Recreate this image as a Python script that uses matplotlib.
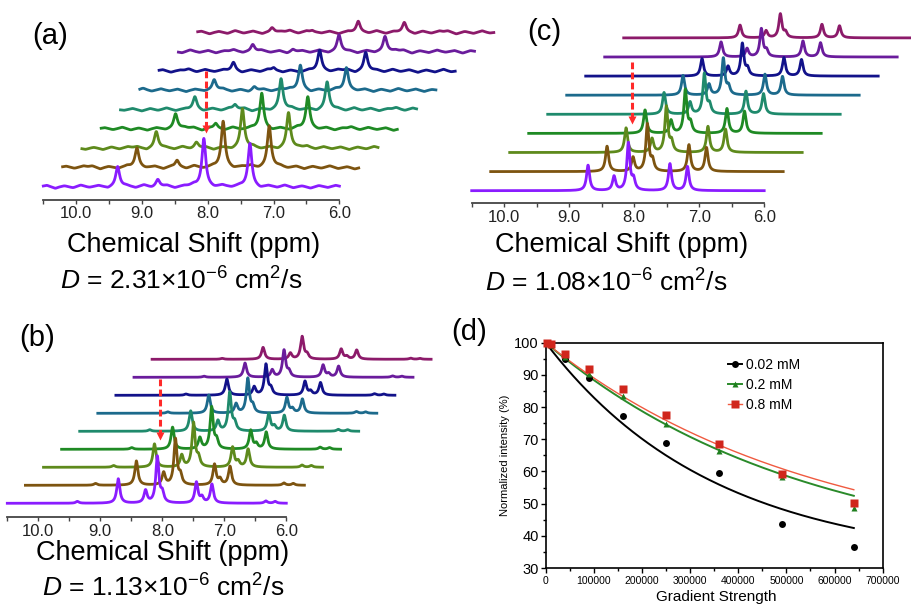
import numpy as np
import matplotlib
matplotlib.use("Agg")
import matplotlib.pyplot as plt
from matplotlib.lines import Line2D

plt.rcParams['font.family'] = ['Liberation Sans', 'DejaVu Sans']
plt.rcParams['mathtext.fontset'] = 'custom'
plt.rcParams['mathtext.rm'] = 'Liberation Sans'
plt.rcParams['mathtext.it'] = 'Liberation Sans:italic'

W, H = 912, 608

# stacked traces, bottom (weakest gradient) to top
trace_colors = ["#8a1cff", "#7d5410", "#5e8a1c", "#1f8a24", "#1f8a6c",
                "#1c6a8c", "#12128a", "#6a1c9c", "#8c1a6a"]

# (a) 0.02 mM
peaks_a_ppm = [9.37, 8.76, 8.06, 7.36]
peaks_a_rel = [0.42, 0.15, 1.00, 0.90]
atten_a = [1.00, 0.96, 0.82, 0.74, 0.64, 0.52, 0.43, 0.35, 0.23]
noise_a_ppm = [10.45, 10.32, 10.18, 10.05, 9.93, 9.80, 9.66, 9.52, 9.24, 9.10,
               8.97, 8.85, 8.62, 8.50, 8.36, 8.22, 7.90, 7.78, 7.64, 7.52,
               7.20, 7.08, 6.95, 6.83, 6.70, 6.57, 6.44, 6.31, 6.18, 6.06]
noise_a_amp = [1.8, -2.2, 1.2, -1.5, 2.0, -1.0, 1.5, -2.0, 1.3, -1.6,
               2.2, -1.2, 1.6, -1.8, 1.0, 2.4, -1.4, 1.8, -1.1, 1.5,
               -2.0, 1.4, -1.2, 2.0, -1.6, 1.1, -1.9, 1.5, -1.3, 1.7]

# (b) 0.2 mM
peaks_b_ppm = [8.71, 8.27, 8.08, 8.00, 7.45, 7.36, 7.20, 9.37, 6.33, 6.18]
peaks_b_rel = [0.53, 0.27, 1.00, 0.20, 0.45, 0.12, 0.41, 0.04, 0.05, 0.04]

# (c) 0.8 mM
peaks_c_ppm = [8.71, 8.31, 8.09, 8.01, 7.45, 7.18]
peaks_c_rel = [0.54, 0.30, 1.00, 0.22, 0.57, 0.51]

# (d) decay data
gradient = [2500, 10000, 40000, 90000, 160000, 250000, 360000, 490000, 640000]
int_002 = [100, 99.2, 95.0, 89.0, 77.1, 68.8, 59.5, 43.6, 36.5]
int_02 = [100, 99.3, 95.5, 90.3, 83.4, 74.7, 66.4, 58.2, 48.6]
int_08 = [100, 99.5, 96.6, 91.9, 85.5, 77.6, 68.5, 59.3, 50.2]
# fit  I = a*exp(-k*g) + c
fit_002 = (68.6, 2.857e-6, 31.4)
fit_02 = (68.2, 1.868e-6, 31.8)
fit_08 = (67.1, 1.784e-6, 32.9)

fig = plt.figure(figsize=(W / 100, H / 100), dpi=100)


def px_axes(x0, y0, x1, y1):
    return fig.add_axes([x0 / W, 1 - y1 / H, (x1 - x0) / W, (y1 - y0) / H])


def lorentz(x, ppm, rel, hw):
    y = np.zeros_like(x)
    for p, r in zip(ppm, rel):
        y += r / (1 + ((x - p) / hw) ** 2)
    return y


def stack_panel(left, axis_y, scale, dx, dy, base0, peaks, atten, hw, lw,
                arrow, noise=None, peak_px=48):
    span = 480
    ax = px_axes(left, axis_y - 200, left + span, axis_y)
    ax.set_xlim(10.5, 10.5 - span / scale)
    ax.set_ylim(0, 200)
    ax.patch.set_visible(False)
    x = np.linspace(10.5, 6.0, 2500)
    for i in range(len(atten)):
        y = peak_px * atten[i] * lorentz(x, peaks[0], peaks[1], hw)
        if noise is not None:
            amps = np.roll(noise[1], 3 * i) * 0.85
            y = y + lorentz(x, noise[0], amps, 0.05)
        ax.plot(x - i * dx / scale, base0 + i * dy + y, color=trace_colors[i],
                lw=lw, zorder=20 - i, clip_on=False, solid_joinstyle="round")
    # red dashed arrow
    ax_x, ytop, ytip = arrow
    ax.plot([ax_x, ax_x], [ytop, ytip + 6], color="#ff2a2a", lw=2.2,
            dashes=(2.2, 1.1), zorder=30, clip_on=False)
    ax.plot(ax_x, ytip + 3.5, marker="v", ms=6, color="#ff2a2a", mec="none",
            zorder=30, clip_on=False)
    for s in ["top", "right", "left"]:
        ax.spines[s].set_visible(False)
    ax.spines["bottom"].set_bounds(10.5, 6.0)
    ax.spines["bottom"].set_color("#444444")
    ax.spines["bottom"].set_linewidth(1.3)
    ax.set_yticks([])
    ax.set_xticks([10, 9, 8, 7, 6])
    ax.set_xticklabels(["10.0", "9.0", "8.0", "7.0", "6.0"])
    ax.set_xticks([10.5, 9.5, 8.5, 7.5, 6.5], minor=True)
    ax.tick_params(axis="x", which="both", direction="out", length=3,
                   width=1, color="#444444", labelsize=12, pad=1.5,
                   labelcolor="#222222")
    return ax


def ftext(x, y, s, size, **kw):
    fig.text(x / W, 1 - y / H, s, fontsize=size, ha="center", va="center", **kw)


# (a)
stack_panel(43.3, 200, 65.8, 19.3, 19.3, 13.3, (peaks_a_ppm, peaks_a_rel),
            atten_a, 0.035, 2.0, (8.03, 129, 68),
            noise=(noise_a_ppm, noise_a_amp))
# (c)
stack_panel(471.7, 203.3, 65.0, 19.0, 19.1, 12.6, (peaks_c_ppm, peaks_c_rel),
            [v / 100 for v in int_08], 0.028, 2.0, (8.04, 141.6, 80),
            peak_px=47)
# (b)
stack_panel(7.3, 517.3, 62.0, 18.1, 18.0, 14.0, (peaks_b_ppm, peaks_b_rel),
            [v / 100 for v in int_02], 0.03, 2.0, (8.04, 138, 77.3),
            peak_px=46)

ftext(50, 36, "(a)", 21)
ftext(544, 32, "(c)", 21)
ftext(37, 338, "(b)", 21)
ftext(469, 332, "(d)", 21)

ftext(194, 245, "Chemical Shift (ppm)", 19.5)
ftext(622, 245, "Chemical Shift (ppm)", 19.5)
ftext(163, 553, "Chemical Shift (ppm)", 19.5)
ftext(181, 281, r"$\mathit{D}$ = 2.31×10$^{-6}$ cm$^{2}$/s", 19)
ftext(606, 283, r"$\mathit{D}$ = 1.08×10$^{-6}$ cm$^{2}$/s", 19)
ftext(163, 588, r"$\mathit{D}$ = 1.13×10$^{-6}$ cm$^{2}$/s", 19)

# (d)
ax = px_axes(545.7, 342.7, 882.7, 568)
styles = [
    (int_002, fit_002, "0.02 mM", "o", "black", "black", 1.4, 5),
    (int_02, fit_02, "0.2 mM", "^", "#1f7f1f", "#2a8a2a", 1.4, 5),
    (int_08, fit_08, "0.8 mM", "s", "#d0261c", "#f05a40", 1.0, 5.5),
]
gx = np.linspace(0, max(gradient), 400)
handles = []
for vals, (a, k, c), lab, mk, mcol, lcol, lw, ms in styles:
    ax.plot(gx, a * np.exp(-k * gx) + c, color=lcol, lw=lw, zorder=2)
    ax.plot(gradient, vals, mk, color=mcol, ms=ms, mec="none", zorder=3,
            clip_on=False)
    handles.append(Line2D([], [], color=lcol, lw=lw, marker=mk, mfc=mcol,
                          mec="none", ms=ms, label=lab))
ax.set_xlim(0, 700000)
ax.set_ylim(30, 100)
ax.set_xticks(range(0, 700001, 100000))
ax.set_xticks(range(50000, 700000, 100000), minor=True)
ax.set_yticks(range(30, 101, 10))
ax.set_yticks(range(35, 100, 10), minor=True)
ax.tick_params(axis="x", which="major", length=3.5, width=1, labelsize=7.5, pad=2)
ax.tick_params(axis="y", which="major", length=3.5, width=1, labelsize=10.5, pad=1.5)
ax.tick_params(which="minor", length=2.2, width=1)
for s in ax.spines.values():
    s.set_linewidth(1.2)
ax.set_ylabel("Normalized intensity (%)", fontsize=8, labelpad=3)
ax.legend(handles=handles, loc="upper left", bbox_to_anchor=(0.52, 0.965),
          frameon=False, fontsize=10, handlelength=1.0, handletextpad=0.3,
          labelspacing=0.45, borderpad=0)
fig.text(716 / W, 1 - 590 / H, "Gradient Strength", fontsize=11,
         ha="center", va="top")

fig.savefig("out.png", dpi=100)
